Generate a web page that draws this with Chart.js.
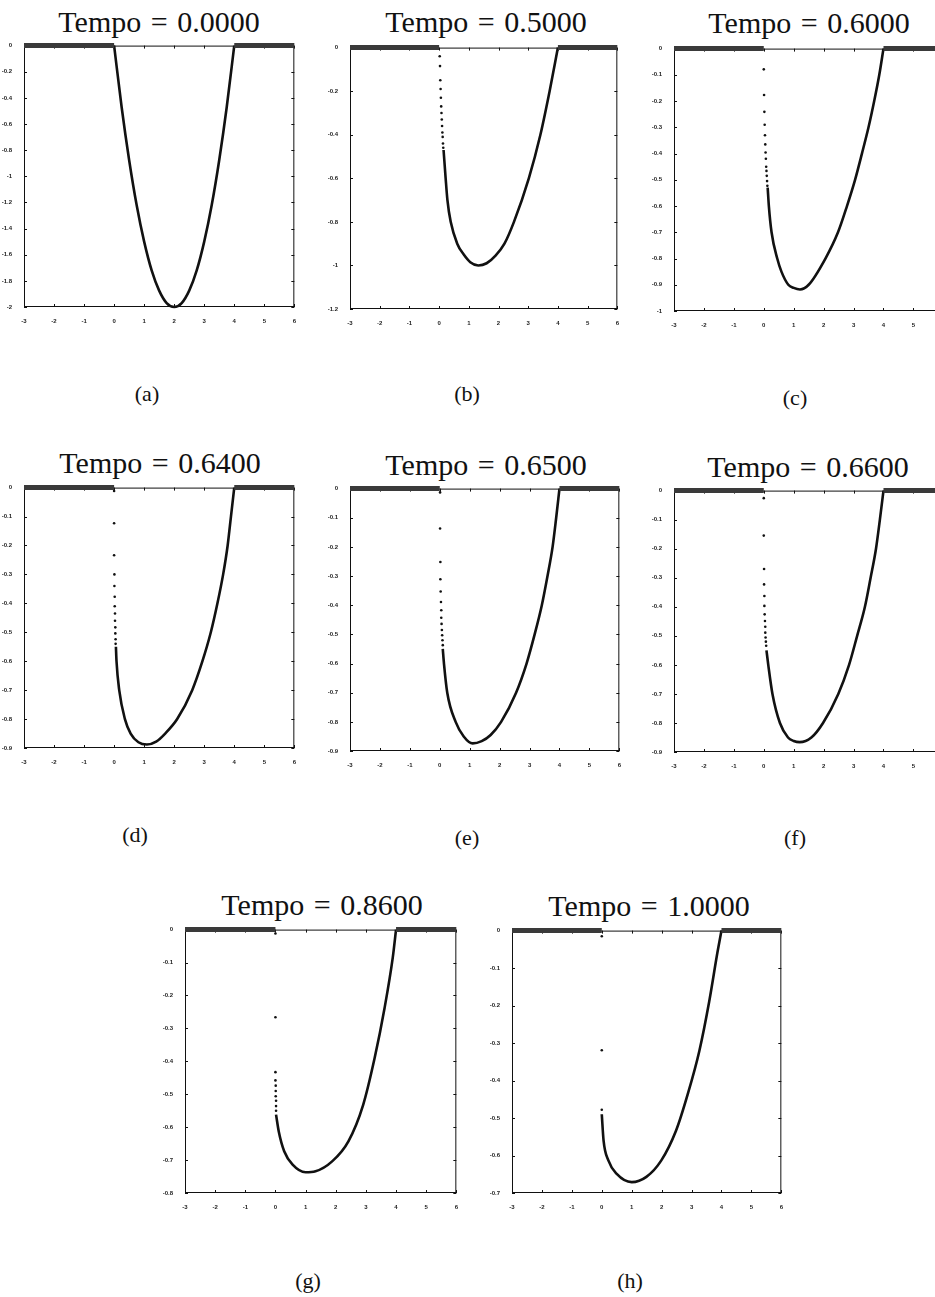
<!DOCTYPE html>
<html>
<head>
<meta charset="utf-8">
<script src="https://cdn.jsdelivr.net/npm/chart.js@4.4.0/dist/chart.umd.min.js"></script>
<style>
  body { margin: 0; width: 935px; height: 1297px; overflow: hidden; background: #fff; position: relative; }
  .title, .cap { position: absolute; font-family: "Liberation Serif", serif; color: #111; white-space: nowrap; transform: translateX(-50%); }
  .title { font-size: 30px; line-height: 30px; word-spacing: 2px; }
  .cap { font-size: 22px; line-height: 22px; }
  .panel { position: absolute; }
</style>
</head>
<body>
<script>
// labels
const titles = ["Tempo = 0.0000", "Tempo = 0.5000", "Tempo = 0.6000", "Tempo = 0.6400",
                "Tempo = 0.6500", "Tempo = 0.6600", "Tempo = 0.8600", "Tempo = 1.0000"];
const captions = ["(a)", "(b)", "(c)", "(d)", "(e)", "(f)", "(g)", "(h)"];

// axes
const xMin = -3, xMax = 6, xStep = 1;
const yMin = [-2, -1.2, -1, -0.9, -0.9, -0.9, -0.8, -0.7];
const yStep = [0.2, 0.2, 0.1, 0.1, 0.1, 0.1, 0.1, 0.1];

// flat parts (u = 0)
const flatLeftX = [-3, 0];
const flatRightX = [4, 6];

// curves
const curveXA = [0, 0.25, 0.5, 0.75, 1, 1.25, 1.5, 1.75, 2, 2.25, 2.5, 2.75, 3, 3.25, 3.5, 3.75, 4];
const curveYA = [0, -0.47, -0.875, -1.22, -1.5, -1.72, -1.875, -1.97, -2, -1.97, -1.875, -1.72, -1.5, -1.22, -0.875, -0.47, 0];

const curveXB = [0.15, 0.22, 0.28, 0.39, 0.61, 0.83, 1.05, 1.32, 1.6, 1.9, 2.2, 2.52, 3.02, 3.41, 3.72, 4.0];
const curveYB = [-0.47, -0.6, -0.7, -0.8, -0.9, -0.95, -0.985, -1.0, -0.99, -0.955, -0.9, -0.8, -0.6, -0.4, -0.2, 0];
const dotsXB = [0.02, 0.03, 0.04, 0.05, 0.06, 0.07, 0.08, 0.09, 0.10, 0.11, 0.12, 0.13, 0.14];
const dotsYB = [-0.04, -0.085, -0.15, -0.19, -0.23, -0.27, -0.30, -0.33, -0.36, -0.39, -0.41, -0.44, -0.46];

const curveXC = [0.13, 0.17, 0.26, 0.45, 0.59, 0.82, 1.0, 1.21, 1.5, 2.06, 2.48, 2.78, 3.05, 3.28, 3.5, 3.69, 3.86, 4.0];
const curveYC = [-0.53, -0.6, -0.7, -0.8, -0.85, -0.9, -0.912, -0.918, -0.9, -0.8, -0.7, -0.6, -0.5, -0.4, -0.3, -0.2, -0.1, 0];
const dotsXC = [0.0, 0.01, 0.02, 0.03, 0.04, 0.05, 0.06, 0.07, 0.08, 0.09, 0.10, 0.11, 0.12];
const dotsYC = [-0.079, -0.177, -0.241, -0.29, -0.33, -0.365, -0.396, -0.42, -0.45, -0.466, -0.485, -0.505, -0.523];

const curveXD = [0.06, 0.08, 0.17, 0.36, 0.55, 0.81, 1.09, 1.4, 1.7, 2.1, 2.6, 2.94, 3.22, 3.44, 3.63, 3.78, 3.89, 4.0];
const curveYD = [-0.55, -0.6, -0.7, -0.8, -0.85, -0.88, -0.888, -0.878, -0.85, -0.8, -0.7, -0.6, -0.5, -0.4, -0.3, -0.2, -0.1, 0];
const dotsXD = [0, 0, 0, 0.01, 0.01, 0.02, 0.02, 0.03, 0.03, 0.04, 0.04, 0.05, 0.05];
const dotsYD = [-0.012, -0.123, -0.234, -0.30, -0.34, -0.377, -0.41, -0.435, -0.46, -0.483, -0.504, -0.524, -0.54];

const curveXE = [0.1, 0.14, 0.25, 0.53, 0.8, 1.1, 1.4, 1.7, 2.05, 2.55, 2.9, 3.17, 3.41, 3.6, 3.77, 3.89, 4.0];
const curveYE = [-0.55, -0.6, -0.7, -0.8, -0.85, -0.874, -0.866, -0.845, -0.8, -0.7, -0.6, -0.5, -0.4, -0.3, -0.2, -0.1, 0];
const dotsXE = [0.01, 0.01, 0.02, 0.02, 0.03, 0.04, 0.05, 0.05, 0.06, 0.07, 0.08, 0.09, 0.1];
const dotsYE = [-0.013, -0.137, -0.252, -0.311, -0.353, -0.389, -0.417, -0.443, -0.464, -0.485, -0.503, -0.52, -0.537];

const curveXF = [0.09, 0.15, 0.29, 0.54, 0.81, 1.0, 1.2, 1.59, 1.98, 2.49, 2.85, 3.12, 3.38, 3.57, 3.75, 3.88, 4.0];
const curveYF = [-0.55, -0.6, -0.7, -0.8, -0.85, -0.862, -0.866, -0.85, -0.8, -0.7, -0.6, -0.5, -0.4, -0.3, -0.2, -0.1, 0];
const dotsXF = [0, 0, 0.01, 0.01, 0.02, 0.02, 0.03, 0.04, 0.05, 0.05, 0.06, 0.07, 0.08];
const dotsYF = [-0.026, -0.155, -0.27, -0.323, -0.363, -0.397, -0.426, -0.449, -0.469, -0.489, -0.506, -0.52, -0.534];

const curveXG = [0.02, 0.11, 0.29, 0.57, 1.0, 1.33, 1.88, 2.42, 2.91, 3.29, 3.62, 3.89, 4.0];
const curveYG = [-0.562, -0.613, -0.673, -0.714, -0.737, -0.734, -0.704, -0.643, -0.532, -0.39, -0.238, -0.086, 0];
const dotsXG = [0, 0, 0, 0, 0.01, 0.01, 0.01, 0.02, 0.02, 0.02];
const dotsYG = [-0.012, -0.266, -0.433, -0.458, -0.474, -0.49, -0.506, -0.52, -0.536, -0.55];

const curveXH = [0, 0.06, 0.22, 0.5, 1.0, 1.49, 1.99, 2.48, 2.87, 3.26, 3.59, 3.87, 4.0];
const curveYH = [-0.49, -0.56, -0.613, -0.649, -0.671, -0.657, -0.613, -0.534, -0.437, -0.321, -0.189, -0.056, 0];
const dotsXH = [0, 0, 0];
const dotsYH = [-0.015, -0.319, -0.478];

const curvesX = [curveXA, curveXB, curveXC, curveXD, curveXE, curveXF, curveXG, curveXH];
const curvesY = [curveYA, curveYB, curveYC, curveYD, curveYE, curveYF, curveYG, curveYH];
const dotsX = [[], dotsXB, dotsXC, dotsXD, dotsXE, dotsXF, dotsXG, dotsXH];
const dotsY = [[], dotsYB, dotsYC, dotsYD, dotsYE, dotsYF, dotsYG, dotsYH];

// page layout: plot area [left, top, width, height], title [cx, top], caption [cx, top]
const plotBox = [[24, 46, 271, 262], [350, 48, 268, 262], [674, 49, 270, 263],
                 [24, 488, 271, 261], [350, 489, 270, 263], [674, 491, 270, 262],
                 [185, 930, 272, 264], [512, 931, 270, 263]];
const titlePos = [[159, 7], [486, 7], [809, 8], [160, 448], [486, 450], [808, 452], [322, 890], [649, 891]];
const capPos = [[147, 383], [467, 383], [795, 387], [135, 824], [467, 827], [795, 827], [308, 1270], [630, 1270]];

const tickFont = { family: "Liberation Sans", size: 6, weight: "bold" };

const pts = (xs, ys) => xs.map((x, i) => ({ x: x, y: ys[i] }));
const fmt = v => String(Number(v.toFixed(2)));

// box round the axes with small inward ticks on every side
const framePlugin = {
  id: "frame",
  beforeDatasetsDraw(chart) {
    const { ctx, chartArea: a, scales: { x, y } } = chart;
    ctx.save();
    ctx.strokeStyle = "#111";
    ctx.lineWidth = 1;
    ctx.strokeRect(a.left + 0.5, a.top + 0.5, a.right - a.left - 1, a.bottom - a.top - 1);
    ctx.beginPath();
    x.ticks.forEach(t => {
      const px = Math.round(x.getPixelForValue(t.value)) + 0.5;
      ctx.moveTo(px, a.bottom); ctx.lineTo(px, a.bottom - 3);
      ctx.moveTo(px, a.top); ctx.lineTo(px, a.top + 3);
    });
    y.ticks.forEach(t => {
      const py = Math.round(y.getPixelForValue(t.value)) + 0.5;
      ctx.moveTo(a.left, py); ctx.lineTo(a.left + 3, py);
      ctx.moveTo(a.right, py); ctx.lineTo(a.right - 3, py);
    });
    ctx.stroke();
    ctx.restore();
  }
};

function config(i) {
  return {
    type: "scatter",
    data: {
      datasets: [
        { data: pts(flatLeftX, [0, 0]), showLine: true, borderColor: "#3a3a3a", borderWidth: 5, pointRadius: 0, clip: false },
        { data: pts(flatRightX, [0, 0]), showLine: true, borderColor: "#3a3a3a", borderWidth: 5, pointRadius: 0, clip: false },
        { data: pts(curvesX[i], curvesY[i]), showLine: true, borderColor: "#111", borderWidth: 2.6,
          pointRadius: 0, cubicInterpolationMode: "monotone", clip: false },
        { data: pts(dotsX[i], dotsY[i]), showLine: false, pointRadius: 1.3, backgroundColor: "#111",
          borderWidth: 0, clip: false }
      ]
    },
    options: {
      responsive: false,
      animation: false,
      devicePixelRatio: 1,
      layout: { padding: { top: 6, right: 4, bottom: 4, left: 0 } },
      plugins: { legend: { display: false }, tooltip: { enabled: false } },
      scales: {
        x: {
          type: "linear", min: xMin, max: xMax,
          grid: { display: false }, border: { display: false },
          ticks: { stepSize: xStep, font: tickFont, color: "#222", padding: 3, maxRotation: 0, autoSkip: false, callback: fmt },
          afterFit: s => { s.height = 18; }
        },
        y: {
          type: "linear", min: yMin[i], max: 0,
          grid: { display: false }, border: { display: false },
          ticks: { stepSize: yStep[i], font: tickFont, color: "#222", padding: 4, autoSkip: false, callback: fmt },
          afterFit: s => { s.width = 24; }
        }
      }
    },
    plugins: [framePlugin]
  };
}

titles.forEach((t, i) => {
  const wrap = document.createElement("div");
  wrap.className = "panel";
  document.body.appendChild(wrap);
  const cv = document.createElement("canvas");
  wrap.appendChild(cv);
  cv.width = 320; cv.height = 300;
  let chart = new Chart(cv, config(i));
  const a = chart.chartArea;
  const mL = a.left, mT = a.top, mR = 320 - a.right, mB = 300 - a.bottom;
  chart.destroy();
  const box = plotBox[i];
  cv.width = box[2] + mL + mR;
  cv.height = box[3] + mT + mB;
  cv.style.width = cv.width + "px";
  cv.style.height = cv.height + "px";
  chart = new Chart(cv, config(i));
  wrap.style.left = (box[0] - mL) + "px";
  wrap.style.top = (box[1] - mT) + "px";

  const ti = document.createElement("div");
  ti.className = "title";
  ti.textContent = t;
  ti.style.left = titlePos[i][0] + "px";
  ti.style.top = titlePos[i][1] + "px";
  document.body.appendChild(ti);

  const cp = document.createElement("div");
  cp.className = "cap";
  cp.textContent = captions[i];
  cp.style.left = capPos[i][0] + "px";
  cp.style.top = capPos[i][1] + "px";
  document.body.appendChild(cp);
});
</script>
</body>
</html>
